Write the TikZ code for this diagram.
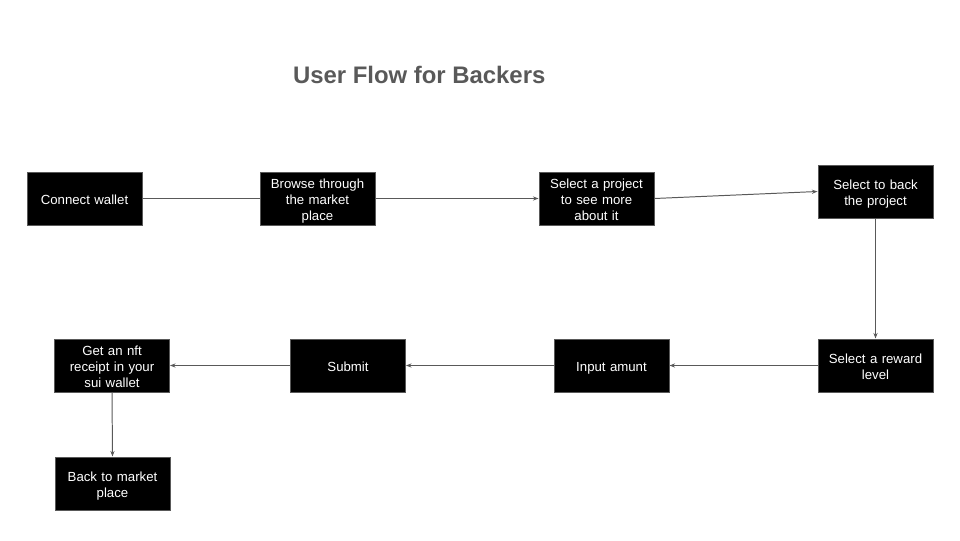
\documentclass[tikz,border=0pt]{standalone}
\usepackage{fontspec}
\setmainfont{Liberation Sans}
\usetikzlibrary{arrows.meta}
\definecolor{slategrey}{HTML}{595959}
\begin{document}
\begin{tikzpicture}
  [
    step box/.style={fill=black, draw=slategrey, line width=0.7pt,
    minimum width=2.875cm, minimum height=1.325cm, text width=2.7cm,
    align=center, text=white, inner sep=0pt, font=\fontsize{9.4}{11.3}\selectfont,
    execute at begin node=\rule{0pt}{11.5pt}, execute at end node=\strut},
    fl/.style={draw=slategrey, line width=0.7pt, -{Stealth[length=4pt,width=3pt]}}
  ]
  \useasboundingbox (0,0) rectangle (24,13.5);

  \node (tTitle) at (10.48,11.62) [text=slategrey, font=\fontsize{17}{20}\bfseries] {User Flow for Backers};

  \node (bConnect) at ( 2.1125,8.5375) [step box] {Connect wallet};
  \node (bBrowse)  at ( 7.9375,8.5375) [step box] {Browse through\\ the market\\ place};
  \node (bSelect)  at (14.9125,8.5375) [step box] {Select a project\\ to see more\\ about it};
  \node (bBack)    at (21.8875,8.7125) [step box] {Select to back\\ the project};

  \node (bReward)  at (21.8875,4.3625) [step box] {Select a reward\\ level};
  \node (bInput)   at (15.2875,4.3625) [step box] {Input amunt};
  \node (bSubmit)  at ( 8.7,   4.3625) [step box] {Submit};
  \node (bReceipt) at ( 2.8,   4.3625) [step box] {Get an nft\\ receipt in your\\ sui wallet};

  \node (bMarket)  at ( 2.8125,1.4125) [step box] {Back to market\\ place};

  \draw [fl, -] (bConnect.east) -- (bBrowse.west);
  \draw [fl] (bBrowse.east) -- (bSelect.west);
  \draw [fl] (bSelect.east) -- (bBack.west);
  \draw [fl] (bBack.south) -- (bReward.north);

  \draw [fl] (bReward.west) -- (bInput.east);
  \draw [fl] (bInput.west) -- (bSubmit.east);
  \draw [fl] (bSubmit.west) -- (bReceipt.east);
  \draw [fl] (bReceipt.south) -- (bMarket.north);
\end{tikzpicture}
\end{document}
